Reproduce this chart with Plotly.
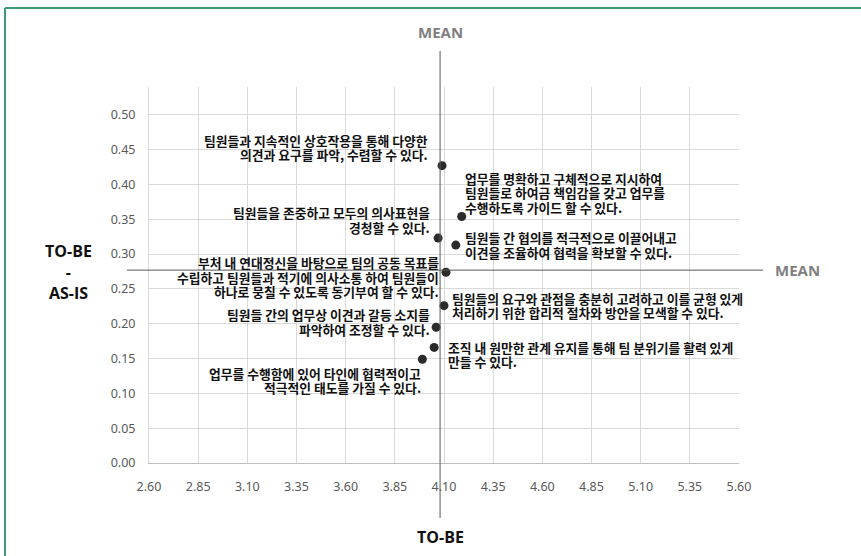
import plotly.graph_objects as go

# ---- data ----
to_be = [4.09, 4.19, 4.07, 4.16, 4.11, 4.10, 4.06, 4.05, 3.99]
gap = [0.427, 0.354, 0.323, 0.313, 0.274, 0.226, 0.195, 0.166, 0.149]
labels = [
    "팀원들과 지속적인 상호작용을 통해 다양한<br>의견과 요구를 파악, 수렴할 수 있다.",
    "업무를 명확하고 구체적으로 지시하여<br>팀원들로 하여금 책임감을 갖고 업무를<br>수행하도록 가이드 할 수 있다.",
    "팀원들을 존중하고 모두의 의사표현을<br>경청할 수 있다.",
    "팀원들 간 협의를 적극적으로 이끌어내고<br>이견을 조율하여 협력을 확보할 수 있다.",
    "부처 내 연대정신을 바탕으로 팀의 공동 목표를<br>수립하고 팀원들과 적기에 의사소통 하여 팀원들이<br>하나로 뭉칠 수 있도록 동기부여 할 수 있다.",
    "팀원들의 요구와 관점을 충분히 고려하고 이를 균형 있게<br>처리하기 위한 합리적 절차와 방안을 모색할 수 있다.",
    "팀원들 간의 업무상 이견과 갈등 소지를<br>파악하여 조정할 수 있다.",
    "조직 내 원만한 관계 유지를 통해 팀 분위기를 활력 있게<br>만들 수 있다.",
    "업무를 수행함에 있어 타인에 협력적이고<br>적극적인 태도를 가질 수 있다.",
]
mean_x = 4.08
mean_y = 0.277
x_range = [2.6, 5.6]
y_range = [0.0, 0.54]

# label placement (side, xshift, yshift) - styling only
placement = [
    ("right", -13, 18),
    ("left", 2, 24),
    ("right", -7, 18),
    ("left", 8, 0),
    ("right", -6, -5),
    ("left", 7, 0),
    ("right", -5, 5),
    ("left", 13, -7),
    ("right", 0, -21),
]
LINE_GAP = 14.5

W, H = 861, 556
ML, MR, MT, MB = 149, 122, 87, 93
PW, PH = W - ML - MR, H - MT - MB


def px(xp):
    return (xp - ML) / PW


def py(yp):
    return (H - MB - yp) / PH


fig = go.Figure()
fig.add_trace(go.Scatter(
    x=to_be, y=gap, mode="markers",
    marker=dict(size=9, color="#2b2b2b"),
    hoverinfo="skip", cliponaxis=False, showlegend=False,
))

ann_font = dict(family="Noto Sans CJK KR", size=12.8, color="#111111", weight="bold")
annotations = []
for xv, yv, txt, (side, xs, ys) in zip(to_be, gap, labels, placement):
    lines = txt.split("<br>")
    n = len(lines)
    for i, line in enumerate(lines):
        annotations.append(dict(
            x=xv, y=yv, xref="x", yref="y", text=line, showarrow=False,
            xanchor="right" if side == "right" else "left",
            yanchor="middle", xshift=xs,
            yshift=ys + ((n - 1) / 2 - i) * LINE_GAP,
            font=ann_font, borderpad=0,
        ))

xm = (mean_x - x_range[0]) / (x_range[1] - x_range[0])
ym = (mean_y - y_range[0]) / (y_range[1] - y_range[0])

mean_font = dict(family="Open Sans", size=15, color="#7f7f7f", weight="bold")
annotations += [
    dict(x=xm, y=py(32), xref="paper", yref="paper", text="MEAN", showarrow=False,
         xanchor="center", yanchor="middle", font=mean_font),
    dict(x=px(797), y=ym, xref="paper", yref="paper", text="MEAN", showarrow=False,
         xanchor="center", yanchor="middle", font=mean_font),
    dict(x=xm, y=py(537), xref="paper", yref="paper", text="TO-BE", showarrow=False,
         xanchor="center", yanchor="middle",
         font=dict(family="Open Sans", size=16, color="#111111", weight="bold")),
    dict(x=px(68), y=py(272), xref="paper", yref="paper", text="TO-BE<br>-<br>AS-IS",
         showarrow=False, align="center", xanchor="center", yanchor="middle",
         font=dict(family="Open Sans", size=16, color="#111111", weight="bold")),
]

shapes = [
    dict(type="line", xref="paper", yref="paper", x0=xm, x1=xm, y0=py(518), y1=py(51),
         line=dict(color="#595959", width=1)),
    dict(type="line", xref="paper", yref="paper", x0=px(127), x1=px(763), y0=ym, y1=ym,
         line=dict(color="#595959", width=1)),
    dict(type="line", xref="paper", yref="paper", x0=px(5), x1=px(870), y0=py(8), y1=py(8),
         line=dict(color="#3f9a73", width=2)),
    dict(type="line", xref="paper", yref="paper", x0=px(5), x1=px(5), y0=py(8), y1=py(570),
         line=dict(color="#3f9a73", width=2)),
]

tick_font = dict(family="Noto Sans", size=12.5, color="#595959")
fig.update_layout(
    width=W, height=H,
    margin=dict(l=ML, r=MR, t=MT, b=MB),
    paper_bgcolor="white", plot_bgcolor="white",
    annotations=annotations, shapes=shapes,
    xaxis=dict(range=x_range, dtick=0.25, tick0=2.6, tickformat=".2f",
               showgrid=True, gridcolor="#d9d9d9", gridwidth=1,
               showline=True, linecolor="#bfbfbf", linewidth=1,
               zeroline=False, tickfont=tick_font, ticks="", ticklabelstandoff=12),
    yaxis=dict(range=y_range, dtick=0.05, tick0=0, tickformat=".2f",
               showgrid=True, gridcolor="#d9d9d9", gridwidth=1,
               showline=True, linecolor="#d9d9d9", linewidth=1,
               zeroline=False, tickfont=tick_font, ticks="", ticklabelstandoff=10),
)

fig.write_html(
    "out.html",
    config={"displayModeBar": False},
    post_script="document.body.style.margin='0';document.body.style.overflow='hidden';",
)
